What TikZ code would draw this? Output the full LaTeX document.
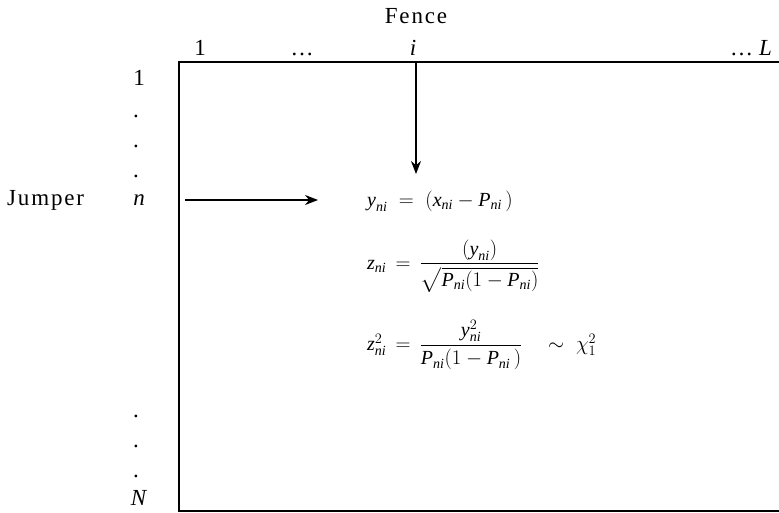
\documentclass[tikz,border=0pt]{standalone}
\usepackage{amsmath}
\usepackage{fontspec}
\setmainfont{Liberation Serif}
\usetikzlibrary{arrows.meta}
\newcommand{\ls}[1]{{\addfontfeature{LetterSpace=8}#1}}
\newcommand{\mv}[1]{\textit{#1}}
\newcommand{\sbn}{_{\textit{ni}}}
\begin{document}
\begin{tikzpicture}[x=1pt,y=-1pt,
  lbl/.style={inner sep=0pt, font=\fontsize{23}{27}\selectfont},
  eqn/.style={inner sep=0pt, anchor=west, font=\fontsize{20}{24}\selectfont},
  dotl/.style={inner sep=0pt, font=\fontsize{23}{27}\selectfont},
  boxline/.style={line width=1.6pt},
  arr/.style={line width=1.6pt, -{Stealth[length=13pt,width=10pt]}}]
\useasboundingbox (0,0) rectangle (779,513);
% header
\node[lbl, anchor=base] (fence) at (416,24) {\ls{Fence}};
\node[lbl, anchor=base] (c1) at (200,56) {1};
\node[lbl, anchor=base] (cdots) at (302,56) {\ls{\ldots}};
\node[lbl, anchor=base] (ci) at (413,56) {\textit{i}};
\node[lbl, anchor=base east] (cL) at (772,56) {\ls{\ldots}\hspace{6pt}\textit{L}};
% left column
\node[lbl, anchor=base] (r1) at (139,86) {1};
\node[dotl, anchor=base] (d1) at (136,118) {.};
\node[dotl, anchor=base] (d2) at (136,148) {.};
\node[dotl, anchor=base] (d3) at (136,178) {.};
\node[lbl, anchor=base] (rn) at (139,206) {\textit{n}};
\node[lbl, anchor=base west] (jumper) at (7,206) {\ls{Jumper}};
\node[dotl, anchor=base] (d4) at (136,417) {.};
\node[dotl, anchor=base] (d5) at (136,447) {.};
\node[dotl, anchor=base] (d6) at (136,477) {.};
\node[lbl, anchor=base] (rN) at (139,505) {\textit{N}};
% box
\coordinate (tl) at (179,62);
\coordinate (tr) at (780,62);
\coordinate (bl) at (179,511);
\coordinate (br) at (780,511);
\draw[boxline] (tr) -- (tl) -- (bl) -- (br);
% arrows
\coordinate (vs) at (416,62);
\coordinate (ve) at (416,174);
\coordinate (hs) at (185,200);
\coordinate (he) at (318,200);
\draw[arr] (vs) -- (ve);
\draw[arr] (hs) -- (he);
% equations
\node[eqn] (eq1) at (367,201) {$\mv{y}\sbn \;=\; (\mv{x}\sbn - \mv{P}\sbn\,)$};
\node[eqn] (eq2) at (367,266) {$\mv{z}\sbn \,=\, \dfrac{(\mv{y}\sbn)}{\sqrt{\mv{P}\sbn(1-\mv{P}\sbn)}}$};
\node[eqn] (eq3) at (367,345) {$\mv{z}\sbn^{2} \,=\, \dfrac{\mv{y}\sbn^{2}}{\mv{P}\sbn(1-\mv{P}\sbn\,)}\hspace{20pt}\sim\hspace{6pt}\chi_{1}^{2}$};
\end{tikzpicture}
\end{document}
